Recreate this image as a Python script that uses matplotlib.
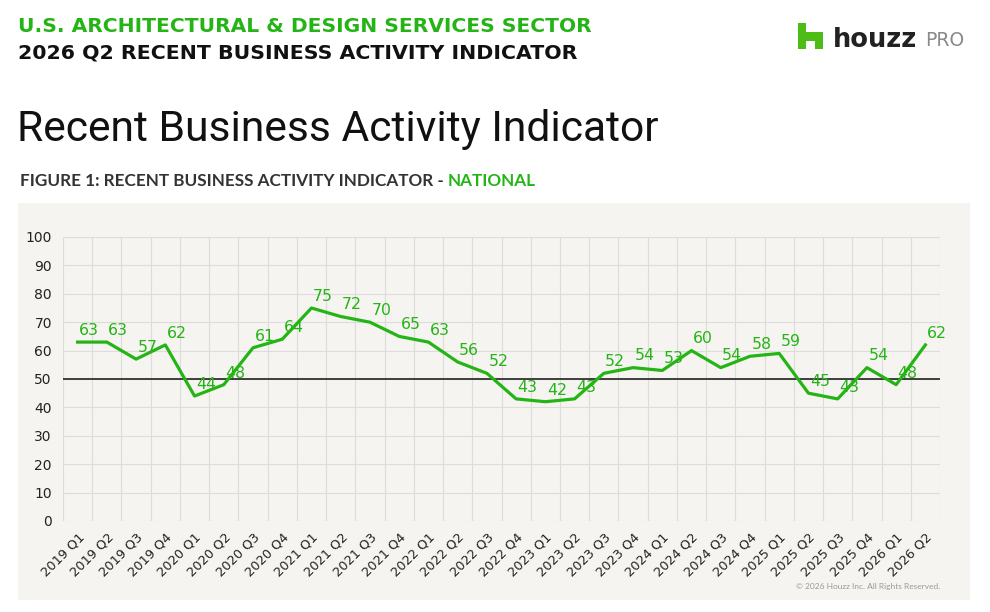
import matplotlib.pyplot as plt
from matplotlib.patches import Rectangle, Polygon

quarters = ['2019 Q1', '2019 Q2', '2019 Q3', '2019 Q4', '2020 Q1', '2020 Q2', '2020 Q3', '2020 Q4',
            '2021 Q1', '2021 Q2', '2021 Q3', '2021 Q4', '2022 Q1', '2022 Q2', '2022 Q3', '2022 Q4',
            '2023 Q1', '2023 Q2', '2023 Q3', '2023 Q4', '2024 Q1', '2024 Q2', '2024 Q3', '2024 Q4',
            '2025 Q1', '2025 Q2', '2025 Q3', '2025 Q4', '2026 Q1', '2026 Q2']
rbai = [63, 63, 57, 62, 44, 48, 61, 64, 75, 72, 70, 65, 63, 56, 52, 43,
        42, 43, 52, 54, 53, 60, 54, 58, 59, 45, 43, 54, 48, 62]
y_ticks = list(range(0, 101, 10))
baseline = 50

GREEN = '#25b416'
PANEL = '#f5f4f0'
W, H = 990, 612

plt.rcParams['font.family'] = ['DejaVu Sans']

fig = plt.figure(figsize=(W / 100, H / 100), dpi=100)
renderer = fig.canvas.get_renderer()


def px(x, y):
    # pixel coords (from top-left) -> figure fraction
    return x / W, 1 - y / H


def fit_text(x, y, s, width, **kw):
    # place text and scale its font so it spans `width` pixels
    t = fig.text(*px(x, y), s, fontsize=10, va='center', ha='left', **kw)
    w = t.get_window_extent(renderer).width
    t.set_fontsize(10 * width / w)
    return t


# header texts
fit_text(18, 26, 'U.S. ARCHITECTURAL & DESIGN SERVICES SECTOR', 575,
         color=GREEN, fontweight='bold')
fit_text(18, 53, '2026 Q2 RECENT BUSINESS ACTIVITY INDICATOR', 560,
         color='#111111', fontweight='bold')
fit_text(17, 130, 'Recent Business Activity Indicator', 643,
         color='#111111', family='Roboto')

fig_label = 'FIGURE 1: RECENT BUSINESS ACTIVITY INDICATOR - '
t = fit_text(20, 181, fig_label + 'NATIONAL', 517, color='#333333',
             fontweight='bold', family='Lato')
size = t.get_fontsize()
t.set_text(fig_label)
end = t.get_window_extent(renderer).x1
fig.text(end / W, 1 - 181 / H, 'NATIONAL', color=GREEN, fontsize=size,
         fontweight='bold', family='Lato', va='center', ha='left')

# logo
lx, ly, lw, lh = 798, 49, 25, 26
shape = [(0, 0), (0, 1), (0.33, 1), (0.33, 0.66), (1, 0.66), (1, 0),
         (0.67, 0), (0.67, 0.3), (0.33, 0.3), (0.33, 0)]
pts = [px(lx + sx * lw, ly - sy * lh) for sx, sy in shape]
fig.patches.append(Polygon(pts, closed=True, facecolor='#4dbc15', edgecolor='none',
                           transform=fig.transFigure, figure=fig))
fit_text(833, 40, 'houzz', 84, color='#222222', fontweight='bold')
fig.text(*px(925, 41), 'PRO', color='#8a8a8a', fontsize=13.5, va='center', ha='left')

# grey panel
x0, y0 = px(18, 600)
fig.patches.append(Rectangle((x0, y0), (970 - 18) / W, (600 - 203) / H, facecolor=PANEL,
                             edgecolor='none', transform=fig.transFigure, figure=fig,
                             zorder=-10))

ax = fig.add_axes([63 / W, 1 - 521 / H, (940 - 63) / W, (521 - 237) / H])
ax.set_zorder(5)
ax.patch.set_alpha(0)

n = len(quarters)
xs = list(range(n))
ax.set_xlim(-0.5, n - 0.5)
ax.set_ylim(0, 100)

for v in y_ticks:
    ax.axhline(v, color='#dcdcda', lw=0.8, zorder=1)
for i in range(n + 1):
    ax.axvline(i - 0.5, color='#dcdcda', lw=0.8, zorder=1)
ax.axhline(baseline, color='#222222', lw=1.2, zorder=2)

ax.plot(xs, rbai, color=GREEN, lw=2.3, zorder=3)
for x, v in zip(xs, rbai):
    ax.annotate(str(v), (x, v), xytext=(1, 3), textcoords='offset points',
                ha='left', va='bottom', color=GREEN, fontsize=11.3, zorder=4)

for s in ax.spines.values():
    s.set_visible(False)
ax.set_yticks(y_ticks)
ax.set_xticks(xs)
ax.set_xticklabels(quarters, rotation=45, ha='right', rotation_mode='anchor',
                   fontsize=9.3, color='#222222')
ax.tick_params(axis='y', length=0, labelsize=10, colors='#222222', pad=8)
ax.tick_params(axis='x', length=0, colors='#222222', pad=7)

fig.text(*px(940, 586), '\u00a9 2026 Houzz Inc. All Rights Reserved.', color='#999999',
         fontsize=6, ha='right', va='center', family='Lato')

fig.savefig('out.png', dpi=100)
